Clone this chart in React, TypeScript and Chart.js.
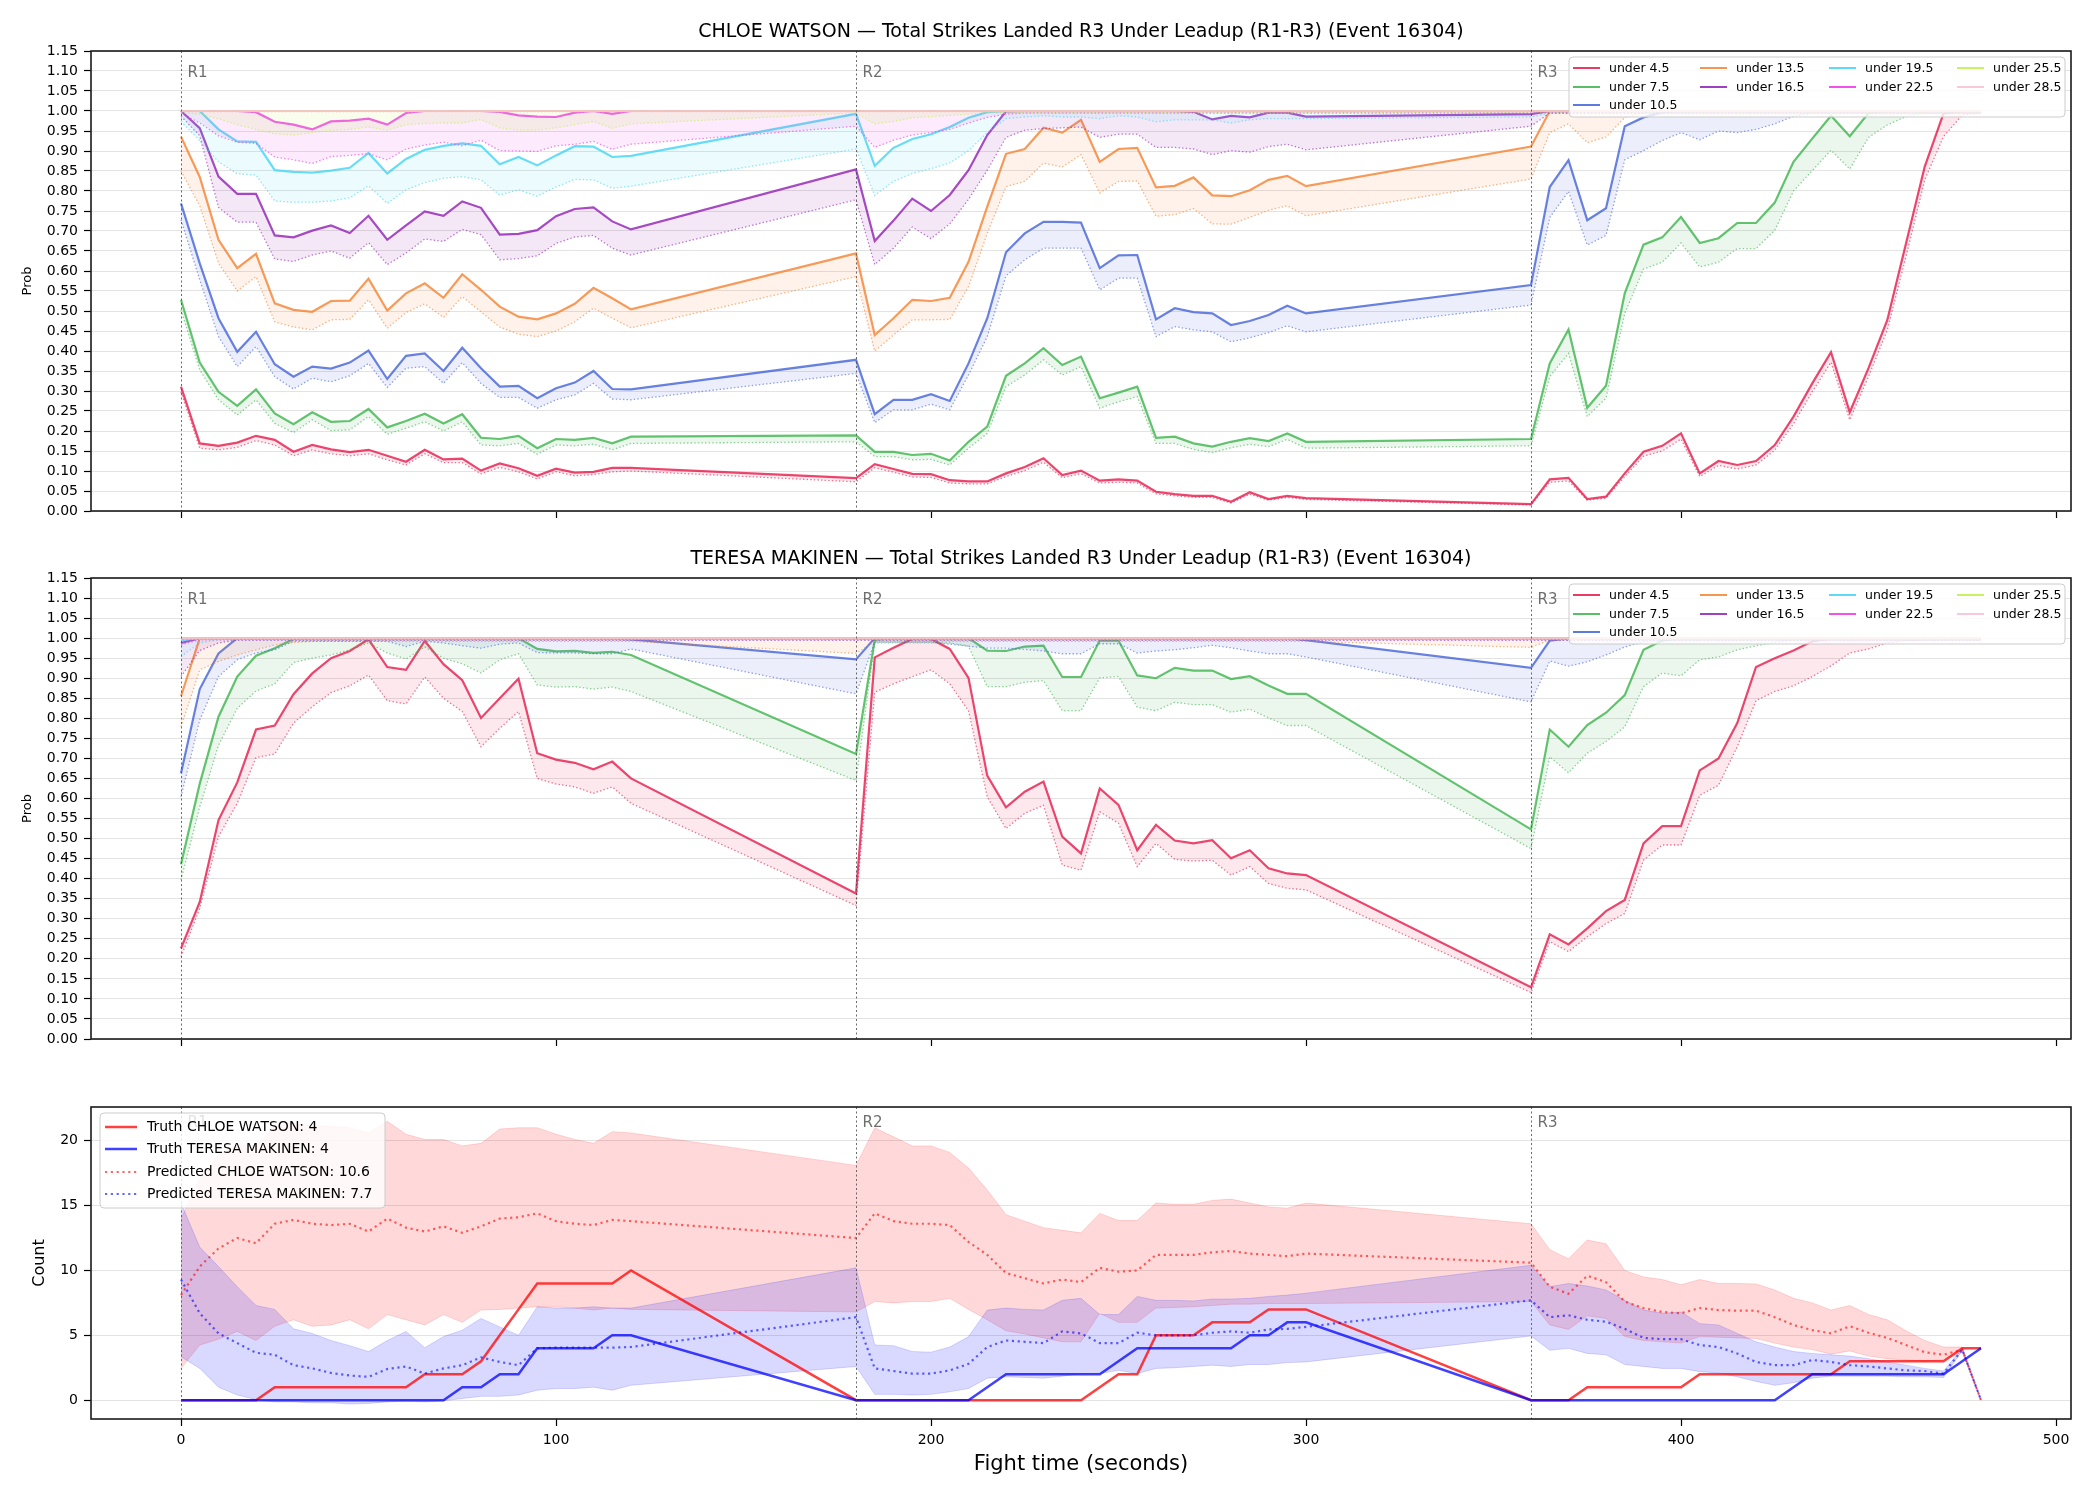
import React, { useEffect, useRef } from "react";
import { Chart, registerables } from "chart.js";

Chart.register(...registerables);

const FONT = "'DejaVu Sans', Verdana, sans-serif";

// ---------- time grid (seconds) ----------
const TIMES = [
  0, 5, 10, 15, 20, 25, 30, 35, 40, 45, 50, 55, 60, 65, 70, 75, 80, 85, 90, 95, 100, 105, 110, 115, 120,
  180, 185, 190, 195, 200, 205, 210, 215, 220, 225, 230, 235, 240, 245, 250, 255, 260, 265, 270, 275, 280, 285, 290, 295, 300,
  360, 365, 370, 375, 380, 385, 390, 395, 400, 405, 410, 415, 420, 425, 430, 435, 440, 445, 450, 455, 460, 465, 470, 475, 480,
];
const ROUND_STARTS = [0, 180, 360];
const ROUND_NAMES = ["R1", "R2", "R3"];
const X_MIN = -24;
const X_MAX = 504;
const X_TICKS = [0, 100, 200, 300, 400, 500];
const PROB_TICKS = [
  0, 0.05, 0.1, 0.15, 0.2, 0.25, 0.3, 0.35, 0.4, 0.45, 0.5, 0.55, 0.6, 0.65, 0.7, 0.75, 0.8, 0.85, 0.9, 0.95, 1.0, 1.05, 1.1, 1.15,
];
const COUNT_TICKS = [0, 5, 10, 15, 20];

const FIGHTERS = ["CHLOE WATSON", "TERESA MAKINEN"];
const EVENT_ID = 16304;
const LINE_NAMES = [
  "under 4.5", "under 7.5", "under 10.5", "under 13.5", "under 16.5",
  "under 19.5", "under 22.5", "under 25.5", "under 28.5",
];
const LINE_COLORS = [
  "#e6194b", "#3cb44b", "#4363d8", "#f58231", "#911eb4",
  "#42d4f4", "#f032e6", "#bfef45", "#fabed4",
];

// ---------- CHLOE WATSON: probability of staying under each line ----------
const CHLOE_UNDER_4_5 = [
  0.311, 0.169, 0.163, 0.171, 0.188, 0.178, 0.148, 0.165, 0.154, 0.147, 0.153, 0.138, 0.123, 0.153, 0.129, 0.131, 0.101, 0.119, 0.107, 0.088, 0.106, 0.096, 0.098, 0.108, 0.108,
  0.082, 0.117, 0.105, 0.093, 0.092, 0.077, 0.074, 0.074, 0.094, 0.110, 0.132, 0.090, 0.101, 0.076, 0.079, 0.076, 0.048, 0.042, 0.038, 0.038, 0.023, 0.047, 0.030, 0.038, 0.032,
  0.017, 0.079, 0.083, 0.030, 0.036, 0.094, 0.148, 0.163, 0.194, 0.094, 0.125, 0.115, 0.125, 0.165, 0.236, 0.319, 0.397, 0.247, 0.357, 0.477, 0.669, 0.861, 0.994, 1, 1,
];
const CHLOE_UNDER_4_5_LOW = [
  0.298, 0.157, 0.153, 0.159, 0.176, 0.165, 0.138, 0.153, 0.143, 0.138, 0.143, 0.128, 0.115, 0.143, 0.121, 0.121, 0.093, 0.109, 0.098, 0.080, 0.098, 0.088, 0.091, 0.098, 0.100,
  0.073, 0.108, 0.097, 0.085, 0.084, 0.070, 0.068, 0.068, 0.086, 0.101, 0.122, 0.083, 0.093, 0.070, 0.072, 0.070, 0.043, 0.038, 0.034, 0.034, 0.020, 0.042, 0.027, 0.034, 0.029,
  0.015, 0.072, 0.075, 0.027, 0.032, 0.086, 0.137, 0.150, 0.180, 0.086, 0.114, 0.105, 0.115, 0.152, 0.218, 0.298, 0.372, 0.228, 0.336, 0.452, 0.636, 0.828, 0.936, 0.990, 0.995,
];
const CHLOE_UNDER_7_5 = [
  0.528, 0.371, 0.298, 0.263, 0.304, 0.244, 0.217, 0.247, 0.223, 0.225, 0.255, 0.209, 0.225, 0.243, 0.219, 0.242, 0.183, 0.180, 0.188, 0.157, 0.180, 0.178, 0.183, 0.169, 0.186,
  0.189, 0.148, 0.148, 0.140, 0.143, 0.126, 0.173, 0.211, 0.338, 0.369, 0.407, 0.365, 0.386, 0.282, 0.296, 0.311, 0.183, 0.186, 0.169, 0.161, 0.173, 0.182, 0.175, 0.194, 0.173,
  0.180, 0.369, 0.454, 0.258, 0.313, 0.544, 0.666, 0.684, 0.735, 0.670, 0.682, 0.720, 0.720, 0.771, 0.873, 0.931, 0.988, 0.937, 0.995, 1, 1, 1, 1, 1, 1,
];
const CHLOE_UNDER_7_5_LOW = [
  0.503, 0.353, 0.278, 0.240, 0.278, 0.219, 0.196, 0.228, 0.201, 0.203, 0.236, 0.192, 0.207, 0.223, 0.200, 0.223, 0.165, 0.163, 0.169, 0.142, 0.165, 0.163, 0.167, 0.153, 0.169,
  0.173, 0.136, 0.136, 0.128, 0.129, 0.115, 0.157, 0.194, 0.311, 0.340, 0.378, 0.340, 0.361, 0.257, 0.273, 0.286, 0.169, 0.169, 0.154, 0.146, 0.158, 0.167, 0.161, 0.179, 0.157,
  0.163, 0.336, 0.394, 0.236, 0.282, 0.494, 0.605, 0.622, 0.670, 0.610, 0.622, 0.656, 0.656, 0.702, 0.800, 0.851, 0.902, 0.855, 0.934, 0.965, 0.986, 0.995, 0.995, 0.995, 0.995,
];
const CHLOE_UNDER_10_5 = [
  0.769, 0.619, 0.482, 0.398, 0.448, 0.367, 0.336, 0.361, 0.356, 0.371, 0.401, 0.330, 0.388, 0.394, 0.350, 0.408, 0.357, 0.311, 0.313, 0.282, 0.307, 0.321, 0.350, 0.305, 0.304,
  0.378, 0.242, 0.278, 0.278, 0.292, 0.275, 0.369, 0.482, 0.647, 0.694, 0.723, 0.723, 0.721, 0.607, 0.639, 0.640, 0.479, 0.507, 0.497, 0.494, 0.465, 0.475, 0.490, 0.513, 0.494,
  0.565, 0.810, 0.877, 0.727, 0.757, 0.962, 0.984, 0.997, 1, 1, 1, 1, 1, 1, 1, 1, 1, 1, 1, 1, 1, 1, 1, 1, 1,
];
const CHLOE_UNDER_10_5_LOW = [
  0.728, 0.578, 0.436, 0.361, 0.411, 0.336, 0.305, 0.332, 0.323, 0.338, 0.369, 0.309, 0.357, 0.361, 0.319, 0.371, 0.319, 0.284, 0.284, 0.257, 0.278, 0.290, 0.319, 0.280, 0.278,
  0.344, 0.221, 0.253, 0.253, 0.267, 0.253, 0.340, 0.436, 0.588, 0.628, 0.657, 0.657, 0.657, 0.553, 0.582, 0.582, 0.436, 0.461, 0.453, 0.448, 0.423, 0.433, 0.446, 0.463, 0.448,
  0.515, 0.734, 0.799, 0.665, 0.689, 0.878, 0.901, 0.926, 0.946, 0.928, 0.950, 0.946, 0.954, 0.968, 0.987, 0.995, 0.995, 0.995, 0.995, 0.995, 0.995, 0.995, 0.995, 0.995, 0.995,
];
const CHLOE_UNDER_13_5 = [
  0.936, 0.835, 0.678, 0.607, 0.643, 0.519, 0.503, 0.498, 0.525, 0.526, 0.581, 0.501, 0.544, 0.569, 0.533, 0.592, 0.553, 0.511, 0.486, 0.479, 0.494, 0.518, 0.558, 0.532, 0.504,
  0.644, 0.440, 0.482, 0.528, 0.525, 0.533, 0.623, 0.761, 0.893, 0.905, 0.958, 0.946, 0.978, 0.873, 0.905, 0.908, 0.809, 0.813, 0.834, 0.789, 0.787, 0.802, 0.828, 0.838, 0.812,
  0.911, 1, 1, 1, 1, 1, 1, 1, 1, 1, 1, 1, 1, 1, 1, 1, 1, 1, 1, 1, 1, 1, 1, 1, 1,
];
const CHLOE_UNDER_13_5_LOW = [
  0.850, 0.763, 0.620, 0.550, 0.586, 0.473, 0.460, 0.453, 0.478, 0.479, 0.528, 0.457, 0.496, 0.518, 0.484, 0.536, 0.498, 0.460, 0.442, 0.436, 0.450, 0.473, 0.507, 0.482, 0.458,
  0.586, 0.400, 0.440, 0.478, 0.478, 0.479, 0.561, 0.694, 0.811, 0.824, 0.870, 0.860, 0.891, 0.795, 0.824, 0.825, 0.737, 0.741, 0.756, 0.718, 0.717, 0.734, 0.752, 0.763, 0.738,
  0.830, 0.946, 0.968, 0.921, 0.935, 0.984, 0.995, 0.995, 0.995, 0.995, 0.995, 0.995, 0.995, 0.995, 0.995, 0.995, 0.995, 0.995, 0.995, 0.995, 0.995, 0.995, 0.995, 0.995, 0.995,
];
const CHLOE_UNDER_16_5 = [
  1, 0.957, 0.836, 0.793, 0.793, 0.689, 0.684, 0.701, 0.714, 0.695, 0.738, 0.678, 0.714, 0.749, 0.738, 0.774, 0.758, 0.691, 0.693, 0.702, 0.737, 0.755, 0.759, 0.724, 0.704,
  0.854, 0.675, 0.726, 0.781, 0.750, 0.790, 0.852, 0.940, 0.999, 1, 1, 1, 1, 1, 1, 1, 1, 1, 0.998, 0.979, 0.988, 0.984, 0.996, 0.996, 0.986,
  0.992, 1, 1, 1, 1, 1, 1, 1, 1, 1, 1, 1, 1, 1, 1, 1, 1, 1, 1, 1, 1, 1, 1, 1, 1,
];
const CHLOE_UNDER_16_5_LOW = [
  0.987, 0.938, 0.759, 0.722, 0.722, 0.630, 0.624, 0.640, 0.650, 0.632, 0.671, 0.616, 0.645, 0.680, 0.674, 0.704, 0.691, 0.628, 0.631, 0.638, 0.669, 0.685, 0.689, 0.657, 0.640,
  0.778, 0.616, 0.657, 0.710, 0.681, 0.718, 0.779, 0.852, 0.934, 0.952, 0.956, 0.958, 0.960, 0.934, 0.942, 0.942, 0.909, 0.909, 0.905, 0.891, 0.901, 0.897, 0.911, 0.917, 0.903,
  0.962, 0.995, 0.995, 0.995, 0.995, 0.995, 0.995, 0.995, 0.995, 0.995, 0.995, 0.995, 0.995, 0.995, 0.995, 0.995, 0.995, 0.995, 0.995, 0.995, 0.995, 0.995, 0.995, 0.995, 0.995,
];
const CHLOE_UNDER_19_5 = [
  1, 1, 0.954, 0.924, 0.923, 0.852, 0.848, 0.846, 0.851, 0.858, 0.895, 0.844, 0.880, 0.903, 0.913, 0.919, 0.913, 0.867, 0.885, 0.864, 0.889, 0.912, 0.911, 0.885, 0.888,
  0.993, 0.863, 0.908, 0.930, 0.942, 0.960, 0.983, 0.997, 1, 1, 1, 1, 1, 1, 1, 1, 1, 1, 1, 1, 1, 1, 1, 1, 1,
  1, 1, 1, 1, 1, 1, 1, 1, 1, 1, 1, 1, 1, 1, 1, 1, 1, 1, 1, 1, 1, 1, 1, 1, 1,
];
const CHLOE_UNDER_19_5_LOW = [
  0.974, 0.926, 0.873, 0.843, 0.840, 0.775, 0.772, 0.772, 0.775, 0.783, 0.813, 0.769, 0.803, 0.821, 0.832, 0.836, 0.828, 0.790, 0.803, 0.787, 0.810, 0.829, 0.828, 0.807, 0.812,
  0.905, 0.789, 0.824, 0.844, 0.856, 0.870, 0.901, 0.946, 0.981, 0.985, 0.988, 0.985, 0.985, 0.981, 0.988, 0.985, 0.973, 0.978, 0.978, 0.978, 0.970, 0.978, 0.981, 0.981, 0.981,
  0.985, 0.995, 0.995, 0.995, 0.995, 0.995, 0.995, 0.995, 0.995, 0.995, 0.995, 0.995, 0.995, 0.995, 0.995, 0.995, 0.995, 0.995, 0.995, 0.995, 0.995, 0.995, 0.995, 0.995, 0.995,
];
const CHLOE_UNDER_22_5 = [
  1, 1, 1, 1, 0.997, 0.973, 0.966, 0.954, 0.974, 0.976, 0.981, 0.966, 0.995, 1, 1, 1, 1, 0.998, 0.989, 0.986, 0.985, 0.996, 1, 0.993, 1,
  1, 1, 1, 1, 1, 1, 1, 1, 1, 1, 1, 1, 1, 1, 1, 1, 1, 1, 1, 1, 1, 1, 1, 1, 1,
  1, 1, 1, 1, 1, 1, 1, 1, 1, 1, 1, 1, 1, 1, 1, 1, 1, 1, 1, 1, 1, 1, 1, 1, 1,
];
const CHLOE_UNDER_22_5_LOW = [
  0.995, 0.970, 0.938, 0.922, 0.919, 0.885, 0.878, 0.869, 0.886, 0.889, 0.893, 0.878, 0.905, 0.915, 0.922, 0.913, 0.927, 0.901, 0.900, 0.899, 0.913, 0.917, 0.924, 0.904, 0.917,
  0.962, 0.909, 0.927, 0.940, 0.946, 0.954, 0.970, 0.984, 0.992, 0.995, 0.995, 0.995, 0.995, 0.995, 0.995, 0.995, 0.995, 0.995, 0.995, 0.995, 0.995, 0.995, 0.995, 0.995, 0.995,
  0.995, 0.995, 0.995, 0.995, 0.995, 0.995, 0.995, 0.995, 0.995, 0.995, 0.995, 0.995, 0.995, 0.995, 0.995, 0.995, 0.995, 0.995, 0.995, 0.995, 0.995, 0.995, 0.995, 0.995, 0.995,
];
const CHLOE_UNDER_25_5 = [
  1, 1, 1, 1, 1, 1, 1, 1, 1, 1, 1, 1, 1, 1, 1, 1, 1, 1, 1, 1, 1, 1, 1, 1, 1,
  1, 1, 1, 1, 1, 1, 1, 1, 1, 1, 1, 1, 1, 1, 1, 1, 1, 1, 1, 1, 1, 1, 1, 1, 1,
  1, 1, 1, 1, 1, 1, 1, 1, 1, 1, 1, 1, 1, 1, 1, 1, 1, 1, 1, 1, 1, 1, 1, 1, 1,
];
const CHLOE_UNDER_25_5_LOW = [
  0.995, 0.992, 0.980, 0.966, 0.954, 0.943, 0.940, 0.946, 0.952, 0.954, 0.960, 0.952, 0.966, 0.969, 0.970, 0.970, 0.979, 0.958, 0.952, 0.952, 0.958, 0.966, 0.974, 0.957, 0.968,
  0.995, 0.968, 0.974, 0.983, 0.986, 0.989, 0.992, 0.995, 0.995, 0.995, 0.995, 0.995, 0.995, 0.995, 0.995, 0.995, 0.995, 0.995, 0.995, 0.995, 0.995, 0.995, 0.995, 0.995, 0.995,
  0.997, 0.997, 0.997, 0.997, 0.997, 0.997, 0.997, 0.997, 0.997, 0.997, 0.997, 0.997, 0.997, 0.997, 0.997, 0.997, 0.997, 0.997, 0.997, 0.997, 0.997, 0.997, 0.997, 0.997, 0.997,
];
const CHLOE_UNDER_28_5 = [
  1, 1, 1, 1, 1, 1, 1, 1, 1, 1, 1, 1, 1, 1, 1, 1, 1, 1, 1, 1, 1, 1, 1, 1, 1,
  1, 1, 1, 1, 1, 1, 1, 1, 1, 1, 1, 1, 1, 1, 1, 1, 1, 1, 1, 1, 1, 1, 1, 1, 1,
  1, 1, 1, 1, 1, 1, 1, 1, 1, 1, 1, 1, 1, 1, 1, 1, 1, 1, 1, 1, 1, 1, 1, 1, 1,
];
const CHLOE_UNDER_28_5_LOW = [
  0.998, 0.998, 0.998, 0.998, 0.998, 0.998, 0.998, 0.998, 0.998, 0.998, 0.998, 0.998, 0.998, 0.998, 0.998, 0.998, 0.998, 0.998, 0.998, 0.998, 0.998, 0.998, 0.998, 0.998, 0.998,
  0.998, 0.998, 0.998, 0.998, 0.998, 0.998, 0.998, 0.998, 0.998, 0.998, 0.998, 0.998, 0.998, 0.998, 0.998, 0.998, 0.998, 0.998, 0.998, 0.998, 0.998, 0.998, 0.998, 0.998, 0.998,
  0.998, 0.998, 0.998, 0.998, 0.998, 0.998, 0.998, 0.998, 0.998, 0.998, 0.998, 0.998, 0.998, 0.998, 0.998, 0.998, 0.998, 0.998, 0.998, 0.998, 0.998, 0.998, 0.998, 0.998, 0.998,
];

// ---------- TERESA MAKINEN: probability of staying under each line ----------
const TERESA_UNDER_4_5 = [
  0.226, 0.342, 0.546, 0.640, 0.772, 0.782, 0.860, 0.912, 0.950, 0.968, 0.997, 0.928, 0.921, 0.993, 0.935, 0.895, 0.801, 0.850, 0.899, 0.713, 0.697, 0.689, 0.673, 0.692, 0.650,
  0.363, 0.952, 0.976, 0.998, 0.998, 0.973, 0.901, 0.657, 0.578, 0.617, 0.642, 0.505, 0.463, 0.625, 0.584, 0.471, 0.534, 0.495, 0.488, 0.496, 0.451, 0.471, 0.426, 0.413, 0.409,
  0.129, 0.261, 0.236, 0.276, 0.319, 0.347, 0.488, 0.531, 0.531, 0.670, 0.700, 0.788, 0.928, 0.950, 0.969, 0.992, 1, 1, 1, 1, 1, 1, 1, 1, 1,
];
const TERESA_UNDER_4_5_LOW = [
  0.205, 0.326, 0.505, 0.588, 0.702, 0.711, 0.788, 0.829, 0.864, 0.881, 0.908, 0.844, 0.836, 0.903, 0.850, 0.817, 0.729, 0.775, 0.817, 0.650, 0.636, 0.629, 0.613, 0.629, 0.588,
  0.333, 0.865, 0.886, 0.904, 0.921, 0.886, 0.819, 0.604, 0.525, 0.563, 0.583, 0.434, 0.421, 0.567, 0.538, 0.430, 0.488, 0.448, 0.444, 0.446, 0.409, 0.430, 0.388, 0.376, 0.372,
  0.116, 0.243, 0.218, 0.255, 0.288, 0.313, 0.446, 0.484, 0.484, 0.608, 0.633, 0.729, 0.844, 0.867, 0.881, 0.904, 0.931, 0.963, 0.973, 0.988, 0.994, 0.996, 0.997, 0.997, 0.997,
];
const TERESA_UNDER_7_5 = [
  0.436, 0.637, 0.804, 0.904, 0.956, 0.975, 0.998, 1, 1, 1, 1, 1, 1, 1, 1, 1, 1, 1, 1, 0.973, 0.967, 0.968, 0.963, 0.966, 0.958,
  0.711, 0.996, 1, 1, 1, 1, 1, 0.969, 0.968, 0.979, 0.981, 0.903, 0.903, 0.994, 0.994, 0.907, 0.900, 0.926, 0.919, 0.919, 0.898, 0.905, 0.882, 0.861, 0.861,
  0.523, 0.772, 0.729, 0.783, 0.814, 0.858, 0.971, 0.994, 1, 1, 1, 1, 1, 1, 1, 1, 1, 1, 1, 1, 1, 1, 1, 1, 1,
];
const TERESA_UNDER_7_5_LOW = [
  0.397, 0.579, 0.733, 0.825, 0.868, 0.886, 0.939, 0.950, 0.958, 0.971, 0.988, 0.963, 0.948, 0.978, 0.950, 0.936, 0.913, 0.946, 0.961, 0.883, 0.878, 0.879, 0.873, 0.878, 0.867,
  0.645, 0.988, 0.988, 0.988, 0.988, 0.988, 0.980, 0.879, 0.879, 0.890, 0.894, 0.819, 0.819, 0.901, 0.904, 0.828, 0.819, 0.840, 0.834, 0.834, 0.815, 0.823, 0.801, 0.782, 0.782,
  0.475, 0.704, 0.664, 0.713, 0.742, 0.779, 0.879, 0.913, 0.906, 0.946, 0.953, 0.971, 0.981, 0.989, 0.995, 0.995, 0.995, 0.995, 0.995, 0.995, 0.995, 0.995, 0.995, 0.995, 0.995,
];
const TERESA_UNDER_10_5 = [
  0.663, 0.873, 0.962, 1, 1, 1, 1, 1, 1, 1, 1, 1, 1, 1, 1, 1, 1, 1, 1, 1, 1, 1, 1, 0.999, 0.997,
  0.947, 1, 1, 1, 1, 1, 1, 1, 1, 1, 1, 1, 1, 1, 1, 1, 1, 1, 1, 1, 1, 1, 1, 1, 0.995,
  0.926, 0.994, 1, 1, 1, 1, 1, 1, 1, 1, 1, 1, 1, 1, 1, 1, 1, 1, 1, 1, 1, 1, 1, 1, 1,
];
const TERESA_UNDER_10_5_LOW = [
  0.604, 0.796, 0.904, 0.946, 0.963, 0.971, 0.992, 0.992, 0.992, 0.992, 0.992, 0.992, 0.979, 0.992, 0.988, 0.981, 0.975, 0.985, 0.988, 0.964, 0.963, 0.963, 0.961, 0.961, 0.973,
  0.861, 0.990, 0.990, 0.990, 0.990, 0.985, 0.980, 0.975, 0.975, 0.972, 0.968, 0.961, 0.961, 0.986, 0.986, 0.963, 0.968, 0.971, 0.976, 0.982, 0.976, 0.968, 0.961, 0.961, 0.953,
  0.841, 0.943, 0.930, 0.941, 0.958, 0.978, 0.991, 0.995, 0.995, 0.995, 0.995, 0.995, 0.995, 0.995, 0.995, 0.995, 0.995, 0.995, 0.995, 0.995, 0.995, 0.995, 0.995, 0.995, 0.995,
];
const TERESA_UNDER_13_5 = [
  0.855, 1, 1, 1, 1, 1, 1, 1, 1, 1, 1, 1, 1, 1, 1, 1, 1, 1, 1, 1, 1, 1, 1, 1, 1,
  1, 1, 1, 1, 1, 1, 1, 1, 1, 1, 1, 1, 1, 1, 1, 1, 1, 1, 1, 1, 1, 1, 1, 1, 1,
  1, 1, 1, 1, 1, 1, 1, 1, 1, 1, 1, 1, 1, 1, 1, 1, 1, 1, 1, 1, 1, 1, 1, 1, 1,
];
const TERESA_UNDER_13_5_LOW = [
  0.779, 0.921, 0.942, 0.958, 0.971, 0.983, 0.989, 0.992, 0.992, 0.992, 0.992, 0.992, 0.992, 0.992, 0.992, 0.992, 0.992, 0.992, 0.992, 0.992, 0.992, 0.992, 0.992, 0.992, 0.992,
  0.962, 0.992, 0.992, 0.992, 0.992, 0.992, 0.992, 0.992, 0.992, 0.992, 0.992, 0.992, 0.992, 0.992, 0.992, 0.992, 0.992, 0.992, 0.992, 0.992, 0.992, 0.992, 0.992, 0.992, 0.992,
  0.977, 0.995, 0.995, 0.995, 0.995, 0.995, 0.995, 0.995, 0.995, 0.995, 0.995, 0.995, 0.995, 0.995, 0.995, 0.995, 0.995, 0.995, 0.995, 0.995, 0.995, 0.995, 0.995, 0.995, 0.995,
];
const TERESA_UNDER_16_5 = [
  0.988, 1, 1, 1, 1, 1, 1, 1, 1, 1, 1, 1, 1, 1, 1, 1, 1, 1, 1, 1, 1, 1, 1, 1, 1,
  1, 1, 1, 1, 1, 1, 1, 1, 1, 1, 1, 1, 1, 1, 1, 1, 1, 1, 1, 1, 1, 1, 1, 1, 1,
  1, 1, 1, 1, 1, 1, 1, 1, 1, 1, 1, 1, 1, 1, 1, 1, 1, 1, 1, 1, 1, 1, 1, 1, 1,
];
const TERESA_UNDER_16_5_LOW = [
  0.904, 0.969, 0.988, 0.995, 0.995, 0.995, 0.995, 0.995, 0.995, 0.995, 0.995, 0.995, 0.995, 0.995, 0.995, 0.995, 0.995, 0.995, 0.995, 0.995, 0.995, 0.995, 0.995, 0.995, 0.995,
  0.995, 0.995, 0.995, 0.995, 0.995, 0.995, 0.995, 0.995, 0.995, 0.995, 0.995, 0.995, 0.995, 0.995, 0.995, 0.995, 0.995, 0.995, 0.995, 0.995, 0.995, 0.995, 0.995, 0.995, 0.995,
  0.995, 0.995, 0.995, 0.995, 0.995, 0.995, 0.995, 0.995, 0.995, 0.995, 0.995, 0.995, 0.995, 0.995, 0.995, 0.995, 0.995, 0.995, 0.995, 0.995, 0.995, 0.995, 0.995, 0.995, 0.995,
];
const TERESA_UNDER_19_5 = [
  0.995, 1, 1, 1, 1, 1, 1, 1, 1, 1, 1, 1, 1, 1, 1, 1, 1, 1, 1, 1, 1, 1, 1, 1, 1,
  1, 1, 1, 1, 1, 1, 1, 1, 1, 1, 1, 1, 1, 1, 1, 1, 1, 1, 1, 1, 1, 1, 1, 1, 1,
  1, 1, 1, 1, 1, 1, 1, 1, 1, 1, 1, 1, 1, 1, 1, 1, 1, 1, 1, 1, 1, 1, 1, 1, 1,
];
const TERESA_UNDER_19_5_LOW = [
  0.954, 0.988, 0.996, 0.996, 0.996, 0.996, 0.996, 0.996, 0.996, 0.996, 0.996, 0.996, 0.996, 0.996, 0.996, 0.996, 0.996, 0.996, 0.996, 0.996, 0.996, 0.996, 0.996, 0.996, 0.996,
  0.996, 0.996, 0.996, 0.996, 0.996, 0.996, 0.996, 0.996, 0.996, 0.996, 0.996, 0.996, 0.996, 0.996, 0.996, 0.996, 0.996, 0.996, 0.996, 0.996, 0.996, 0.996, 0.996, 0.996, 0.996,
  0.996, 0.996, 0.996, 0.996, 0.996, 0.996, 0.996, 0.996, 0.996, 0.996, 0.996, 0.996, 0.996, 0.996, 0.996, 0.996, 0.996, 0.996, 0.996, 0.996, 0.996, 0.996, 0.996, 0.996, 0.996,
];
const TERESA_UNDER_22_5 = [
  1, 1, 1, 1, 1, 1, 1, 1, 1, 1, 1, 1, 1, 1, 1, 1, 1, 1, 1, 1, 1, 1, 1, 1, 1,
  1, 1, 1, 1, 1, 1, 1, 1, 1, 1, 1, 1, 1, 1, 1, 1, 1, 1, 1, 1, 1, 1, 1, 1, 1,
  1, 1, 1, 1, 1, 1, 1, 1, 1, 1, 1, 1, 1, 1, 1, 1, 1, 1, 1, 1, 1, 1, 1, 1, 1,
];
const TERESA_UNDER_22_5_LOW = [
  0.983, 0.996, 0.996, 0.996, 0.996, 0.996, 0.996, 0.996, 0.996, 0.996, 0.996, 0.996, 0.996, 0.996, 0.996, 0.996, 0.996, 0.996, 0.996, 0.996, 0.996, 0.996, 0.996, 0.996, 0.996,
  0.996, 0.996, 0.996, 0.996, 0.996, 0.996, 0.996, 0.996, 0.996, 0.996, 0.996, 0.996, 0.996, 0.996, 0.996, 0.996, 0.996, 0.996, 0.996, 0.996, 0.996, 0.996, 0.996, 0.996, 0.996,
  0.996, 0.996, 0.996, 0.996, 0.996, 0.996, 0.996, 0.996, 0.996, 0.996, 0.996, 0.996, 0.996, 0.996, 0.996, 0.996, 0.996, 0.996, 0.996, 0.996, 0.996, 0.996, 0.996, 0.996, 0.996,
];
const TERESA_UNDER_25_5 = [
  1, 1, 1, 1, 1, 1, 1, 1, 1, 1, 1, 1, 1, 1, 1, 1, 1, 1, 1, 1, 1, 1, 1, 1, 1,
  1, 1, 1, 1, 1, 1, 1, 1, 1, 1, 1, 1, 1, 1, 1, 1, 1, 1, 1, 1, 1, 1, 1, 1, 1,
  1, 1, 1, 1, 1, 1, 1, 1, 1, 1, 1, 1, 1, 1, 1, 1, 1, 1, 1, 1, 1, 1, 1, 1, 1,
];
const TERESA_UNDER_25_5_LOW = [
  0.997, 0.997, 0.997, 0.997, 0.997, 0.997, 0.997, 0.997, 0.997, 0.997, 0.997, 0.997, 0.997, 0.997, 0.997, 0.997, 0.997, 0.997, 0.997, 0.997, 0.997, 0.997, 0.997, 0.997, 0.997,
  0.997, 0.997, 0.997, 0.997, 0.997, 0.997, 0.997, 0.997, 0.997, 0.997, 0.997, 0.997, 0.997, 0.997, 0.997, 0.997, 0.997, 0.997, 0.997, 0.997, 0.997, 0.997, 0.997, 0.997, 0.997,
  0.997, 0.997, 0.997, 0.997, 0.997, 0.997, 0.997, 0.997, 0.997, 0.997, 0.997, 0.997, 0.997, 0.997, 0.997, 0.997, 0.997, 0.997, 0.997, 0.997, 0.997, 0.997, 0.997, 0.997, 0.997,
];
const TERESA_UNDER_28_5 = [
  1, 1, 1, 1, 1, 1, 1, 1, 1, 1, 1, 1, 1, 1, 1, 1, 1, 1, 1, 1, 1, 1, 1, 1, 1,
  1, 1, 1, 1, 1, 1, 1, 1, 1, 1, 1, 1, 1, 1, 1, 1, 1, 1, 1, 1, 1, 1, 1, 1, 1,
  1, 1, 1, 1, 1, 1, 1, 1, 1, 1, 1, 1, 1, 1, 1, 1, 1, 1, 1, 1, 1, 1, 1, 1, 1,
];
const TERESA_UNDER_28_5_LOW = [
  0.998, 0.998, 0.998, 0.998, 0.998, 0.998, 0.998, 0.998, 0.998, 0.998, 0.998, 0.998, 0.998, 0.998, 0.998, 0.998, 0.998, 0.998, 0.998, 0.998, 0.998, 0.998, 0.998, 0.998, 0.998,
  0.998, 0.998, 0.998, 0.998, 0.998, 0.998, 0.998, 0.998, 0.998, 0.998, 0.998, 0.998, 0.998, 0.998, 0.998, 0.998, 0.998, 0.998, 0.998, 0.998, 0.998, 0.998, 0.998, 0.998, 0.998,
  0.998, 0.998, 0.998, 0.998, 0.998, 0.998, 0.998, 0.998, 0.998, 0.998, 0.998, 0.998, 0.998, 0.998, 0.998, 0.998, 0.998, 0.998, 0.998, 0.998, 0.998, 0.998, 0.998, 0.998, 0.998,
];

// ---------- strike counts ----------
const TRUTH_CHLOE = [
  0, 0, 0, 0, 0, 1, 1, 1, 1, 1, 1, 1, 1, 2, 2, 2, 3, 5, 7, 9, 9, 9, 9, 9, 10,
  0, 0, 0, 0, 0, 0, 0, 0, 0, 0, 0, 0, 0, 1, 2, 2, 5, 5, 5, 6, 6, 6, 7, 7, 7,
  0, 0, 0, 1, 1, 1, 1, 1, 1, 2, 2, 2, 2, 2, 2, 2, 2, 3, 3, 3, 3, 3, 3, 4, 4,
];
const TRUTH_TERESA = [
  0, 0, 0, 0, 0, 0, 0, 0, 0, 0, 0, 0, 0, 0, 0, 1, 1, 2, 2, 4, 4, 4, 4, 5, 5,
  0, 0, 0, 0, 0, 0, 0, 1, 2, 2, 2, 2, 2, 2, 3, 4, 4, 4, 4, 4, 4, 5, 5, 6, 6,
  0, 0, 0, 0, 0, 0, 0, 0, 0, 0, 0, 0, 0, 0, 1, 2, 2, 2, 2, 2, 2, 2, 2, 3, 4,
];
const PRED_CHLOE = [
  8.1, 10.3, 11.7, 12.5, 12.1, 13.6, 13.9, 13.6, 13.5, 13.6, 13.0, 14.0, 13.3, 13.0, 13.4, 12.9, 13.4, 14.0, 14.1, 14.4, 13.8, 13.6, 13.5, 13.9, 13.8,
  12.5, 14.4, 13.8, 13.6, 13.6, 13.5, 12.2, 11.2, 9.8, 9.4, 9.0, 9.3, 9.1, 10.2, 9.9, 10.0, 11.2, 11.2, 11.2, 11.4, 11.5, 11.3, 11.2, 11.1, 11.3,
  10.6, 8.75, 8.2, 9.6, 9.1, 7.6, 7.1, 6.8, 6.7, 7.1, 6.95, 6.9, 6.9, 6.4, 5.8, 5.4, 5.15, 5.7, 5.2, 4.8, 4.25, 3.7, 3.5, 3.9, 0,
];
const PRED_CHLOE_HIGH = [
  14.0, 17.0, 18.9, 19.7, 19.6, 21.1, 21.4, 21.1, 21.1, 21.0, 20.6, 21.5, 20.5, 20.1, 20.1, 19.6, 19.8, 20.9, 21.0, 21.0, 20.5, 20.1, 19.8, 20.7, 20.6,
  18.1, 21.0, 20.3, 19.6, 19.6, 19.1, 17.9, 16.2, 14.3, 13.8, 13.3, 13.1, 12.9, 14.4, 13.85, 13.85, 15.2, 15.1, 15.1, 15.4, 15.5, 15.2, 14.9, 14.8, 15.2,
  13.6, 11.6, 10.9, 12.35, 12.05, 10.0, 9.5, 9.3, 8.9, 9.3, 9.0, 9.0, 8.96, 8.5, 7.85, 7.5, 6.95, 7.3, 6.6, 6.2, 5.35, 4.6, 4.1, 4.1, 0,
];
const PRED_CHLOE_LOW = [
  2.45, 4.25, 4.7, 5.3, 4.6, 5.7, 6.2, 5.7, 5.8, 6.2, 5.5, 6.6, 6.2, 5.8, 6.6, 6.0, 6.95, 7.0, 7.1, 7.2, 7.2, 7.1, 6.95, 7.1, 7.0,
  6.8, 7.6, 7.5, 7.6, 7.6, 7.85, 7.0, 6.2, 5.35, 5.1, 4.8, 4.5, 4.5, 6.7, 6.0, 6.0, 7.1, 7.15, 7.2, 7.3, 7.4, 7.4, 7.45, 7.45, 7.45,
  7.6, 5.8, 5.45, 6.5, 6.3, 4.9, 4.6, 4.5, 4.4, 4.9, 4.85, 4.8, 4.75, 4.4, 4.1, 3.9, 3.55, 3.8, 3.4, 3.2, 3.1, 3.0, 3.1, 3.7, 0,
];
const PRED_TERESA = [
  9.3, 6.7, 5.15, 4.4, 3.65, 3.5, 2.7, 2.45, 2.1, 1.9, 1.8, 2.4, 2.6, 2.05, 2.45, 2.7, 3.3, 2.95, 2.7, 4.0, 4.05, 4.05, 4.05, 4.05, 4.1,
  6.4, 2.45, 2.25, 2.05, 2.05, 2.3, 2.8, 4.1, 4.6, 4.5, 4.4, 5.3, 5.15, 4.4, 4.4, 5.2, 5.0, 5.0, 5.0, 5.2, 5.3, 5.2, 5.45, 5.5, 5.65,
  7.7, 6.4, 6.55, 6.2, 6.05, 5.5, 4.8, 4.7, 4.7, 4.25, 4.1, 3.6, 2.95, 2.7, 2.7, 3.1, 2.95, 2.7, 2.6, 2.45, 2.3, 2.25, 2.05, 3.9, 0,
];
const PRED_TERESA_HIGH = [
  15.2, 11.8, 10.3, 8.75, 7.3, 7.0, 5.5, 5.15, 4.6, 4.2, 3.75, 4.6, 5.3, 4.05, 4.9, 5.4, 6.3, 5.65, 5.0, 7.2, 7.1, 7.1, 7.2, 7.1, 7.1,
  10.2, 4.25, 4.2, 3.75, 3.7, 4.1, 4.9, 6.95, 7.1, 7.0, 6.95, 7.7, 7.85, 6.6, 6.6, 8.0, 7.7, 7.7, 7.65, 7.8, 7.8, 7.85, 8.0, 8.1, 8.25,
  10.4, 8.75, 9.0, 8.8, 8.5, 7.7, 6.95, 6.7, 6.8, 5.9, 5.8, 5.15, 4.5, 4.1, 3.75, 3.6, 3.5, 3.4, 3.2, 2.95, 2.7, 2.45, 2.25, 4.0, 0,
];
const PRED_TERESA_LOW = [
  3.35, 2.45, 1.0, 0.4, 0.05, -0.13, -0.13, -0.2, -0.2, -0.3, -0.25, -0.13, -0.08, -0.13, -0.05, 0.13, 0.3, 0.3, 0.4, 0.77, 0.9, 0.9, 1.0, 0.77, 1.15,
  2.6, 0.45, 0.45, 0.4, 0.45, 0.65, 0.9, 1.7, 1.8, 1.75, 1.7, 1.85, 2.05, 2.05, 2.3, 2.05, 2.45, 2.5, 2.6, 2.7, 2.6, 2.75, 2.75, 2.9, 2.95,
  4.95, 3.85, 4.0, 3.6, 3.5, 2.75, 2.6, 2.45, 2.45, 2.2, 2.1, 1.8, 1.45, 1.15, 1.35, 1.7, 1.85, 1.85, 1.85, 1.85, 1.8, 1.8, 1.75, 3.8, 0,
];

const CHLOE_LINES = [
  [CHLOE_UNDER_4_5, CHLOE_UNDER_4_5_LOW],
  [CHLOE_UNDER_7_5, CHLOE_UNDER_7_5_LOW],
  [CHLOE_UNDER_10_5, CHLOE_UNDER_10_5_LOW],
  [CHLOE_UNDER_13_5, CHLOE_UNDER_13_5_LOW],
  [CHLOE_UNDER_16_5, CHLOE_UNDER_16_5_LOW],
  [CHLOE_UNDER_19_5, CHLOE_UNDER_19_5_LOW],
  [CHLOE_UNDER_22_5, CHLOE_UNDER_22_5_LOW],
  [CHLOE_UNDER_25_5, CHLOE_UNDER_25_5_LOW],
  [CHLOE_UNDER_28_5, CHLOE_UNDER_28_5_LOW],
];
const TERESA_LINES = [
  [TERESA_UNDER_4_5, TERESA_UNDER_4_5_LOW],
  [TERESA_UNDER_7_5, TERESA_UNDER_7_5_LOW],
  [TERESA_UNDER_10_5, TERESA_UNDER_10_5_LOW],
  [TERESA_UNDER_13_5, TERESA_UNDER_13_5_LOW],
  [TERESA_UNDER_16_5, TERESA_UNDER_16_5_LOW],
  [TERESA_UNDER_19_5, TERESA_UNDER_19_5_LOW],
  [TERESA_UNDER_22_5, TERESA_UNDER_22_5_LOW],
  [TERESA_UNDER_25_5, TERESA_UNDER_25_5_LOW],
  [TERESA_UNDER_28_5, TERESA_UNDER_28_5_LOW],
];

// ---------- helpers ----------
const rgba = (hex: string, a: number) => {
  const n = parseInt(hex.slice(1), 16);
  return `rgba(${(n >> 16) & 255},${(n >> 8) & 255},${n & 255},${a})`;
};
const points = (ys: number[]) => TIMES.map((t, i) => ({ x: t, y: ys[i] }));

function roundedBox(ctx: CanvasRenderingContext2D, x: number, y: number, w: number, h: number, r: number) {
  ctx.beginPath();
  ctx.moveTo(x + r, y);
  ctx.lineTo(x + w - r, y);
  ctx.arcTo(x + w, y, x + w, y + r, r);
  ctx.lineTo(x + w, y + h - r);
  ctx.arcTo(x + w, y + h, x + w - r, y + h, r);
  ctx.lineTo(x + r, y + h);
  ctx.arcTo(x, y + h, x, y + h - r, r);
  ctx.lineTo(x, y + r);
  ctx.arcTo(x, y, x + r, y, r);
  ctx.closePath();
}

function legendBox(ctx: CanvasRenderingContext2D, x: number, y: number, w: number, h: number) {
  roundedBox(ctx, x, y, w, h, 4);
  ctx.fillStyle = "rgba(255,255,255,0.8)";
  ctx.fill();
  ctx.strokeStyle = "#cccccc";
  ctx.lineWidth = 1;
  ctx.stroke();
}

function xAxis(height: number, showLabels: boolean) {
  return {
    type: "linear",
    min: X_MIN,
    max: X_MAX,
    afterBuildTicks: (s: any) => {
      s.ticks = X_TICKS.map((v) => ({ value: v }));
    },
    afterFit: (s: any) => {
      s.height = height;
    },
    ticks: {
      display: showLabels,
      autoSkip: false,
      maxRotation: 0,
      padding: 6,
      color: "#000",
      font: { family: FONT, size: 14 },
      callback: (v: any) => String(v),
    },
    grid: { drawOnChartArea: false, drawTicks: true, tickLength: 7, tickWidth: 1.2, tickColor: "#000" },
    border: { display: false },
  };
}

function yAxis(min: number, max: number, ticks: number[], fmt: (v: number) => string) {
  return {
    type: "linear",
    min,
    max,
    afterBuildTicks: (s: any) => {
      s.ticks = ticks.map((v) => ({ value: v }));
    },
    afterFit: (s: any) => {
      s.width = 91;
    },
    ticks: {
      autoSkip: false,
      padding: 6,
      color: "#000",
      font: { family: FONT, size: 14 },
      callback: (v: any) => fmt(Number(v)),
    },
    grid: { color: "#e3e3e3", lineWidth: 1, drawTicks: true, tickLength: 7, tickWidth: 1.2, tickColor: "#000" },
    border: { display: false },
  };
}

// round markers + frame, then titles, axis names and legend
function decorPlugin(o: {
  title?: string;
  titleY?: number;
  yLabel: string;
  yLabelX: number;
  yLabelSize: number;
  xLabel?: string;
  xLabelY?: number;
  roundDy: number;
  legend: (ctx: CanvasRenderingContext2D, a: any) => void;
}) {
  return {
    id: "decor",
    afterDatasetsDraw(chart: any) {
      const { ctx, chartArea: a, scales } = chart;
      ctx.save();
      ROUND_STARTS.forEach((t, i) => {
        const x = Math.round(scales.x.getPixelForValue(t)) + 0.5;
        ctx.strokeStyle = "rgba(70,70,70,0.8)";
        ctx.lineWidth = 1;
        ctx.setLineDash([2, 2.5]);
        ctx.beginPath();
        ctx.moveTo(x, a.top);
        ctx.lineTo(x, a.bottom);
        ctx.stroke();
        ctx.setLineDash([]);
        ctx.fillStyle = "rgba(85,85,85,0.85)";
        ctx.font = `15px ${FONT}`;
        ctx.textAlign = "left";
        ctx.textBaseline = "middle";
        ctx.fillText(ROUND_NAMES[i], x + 6, a.top + o.roundDy);
      });
      ctx.strokeStyle = "#1a1a1a";
      ctx.lineWidth = 1.6;
      ctx.strokeRect(a.left, a.top, a.right - a.left, a.bottom - a.top);
      ctx.restore();
    },
    afterDraw(chart: any) {
      const { ctx, chartArea: a } = chart;
      ctx.save();
      ctx.fillStyle = "#000";
      if (o.title) {
        ctx.font = `19px ${FONT}`;
        ctx.textAlign = "center";
        ctx.textBaseline = "middle";
        ctx.fillText(o.title, (a.left + a.right) / 2, o.titleY || 0);
      }
      if (o.xLabel) {
        ctx.font = `21px ${FONT}`;
        ctx.textAlign = "center";
        ctx.textBaseline = "middle";
        ctx.fillText(o.xLabel, (a.left + a.right) / 2, o.xLabelY || 0);
      }
      ctx.translate(o.yLabelX, (a.top + a.bottom) / 2);
      ctx.rotate(-Math.PI / 2);
      ctx.font = `${o.yLabelSize}px ${FONT}`;
      ctx.textAlign = "center";
      ctx.textBaseline = "middle";
      ctx.fillText(o.yLabel, 0, 0);
      ctx.restore();
      ctx.save();
      o.legend(ctx, a);
      ctx.restore();
    },
  };
}

function drawProbLegend(ctx: CanvasRenderingContext2D, a: any) {
  const w = 496;
  const h = 60;
  const x0 = a.right - 6 - w;
  const y0 = a.top + 6;
  legendBox(ctx, x0, y0, w, h);
  const colX = [4, 131, 260, 388];
  const rowY = [11, 30, 48];
  const perCol = [3, 2, 2, 2];
  let k = 0;
  ctx.font = `12.5px ${FONT}`;
  ctx.textAlign = "left";
  ctx.textBaseline = "middle";
  perCol.forEach((n, c) => {
    for (let r = 0; r < n; r++) {
      const hx = x0 + colX[c];
      const hy = y0 + rowY[r];
      ctx.strokeStyle = rgba(LINE_COLORS[k], 0.85);
      ctx.lineWidth = 2;
      ctx.beginPath();
      ctx.moveTo(hx, hy);
      ctx.lineTo(hx + 27, hy);
      ctx.stroke();
      ctx.fillStyle = "#000";
      ctx.fillText(LINE_NAMES[k], hx + 36, hy + 0.5);
      k++;
    }
  });
}

function probConfig(lines: number[][][], fighter: string, top: number, xh: number, titleY: number) {
  const datasets: any[] = [];
  lines.forEach(([main, low], k) => {
    const c = LINE_COLORS[k];
    datasets.push({
      label: `${LINE_NAMES[k]} alt`,
      data: points(low),
      borderColor: rgba(c, 0.6),
      borderWidth: 1.3,
      borderDash: [1.4, 2.2],
      pointRadius: 0,
      fill: false,
      tension: 0,
      order: 100 - 2 * k,
    });
    datasets.push({
      label: LINE_NAMES[k],
      data: points(main),
      borderColor: rgba(c, 0.8),
      borderWidth: 2.2,
      pointRadius: 0,
      fill: "-1",
      backgroundColor: rgba(c, 0.1),
      tension: 0,
      order: 99 - 2 * k,
    });
  });
  return {
    type: "line",
    data: { datasets },
    options: {
      responsive: false,
      animation: false,
      devicePixelRatio: 1,
      events: [],
      layout: { padding: { left: 0, right: 29, top, bottom: 0 } },
      plugins: { legend: { display: false }, tooltip: { enabled: false }, title: { display: false } },
      scales: {
        x: xAxis(xh, false),
        y: yAxis(0, 1.15, PROB_TICKS, (v) => v.toFixed(2)),
      },
    },
    plugins: [
      decorPlugin({
        title: `${fighter} — Total Strikes Landed R3 Under Leadup (R1-R3) (Event ${EVENT_ID})`,
        titleY,
        yLabel: "Prob",
        yLabelX: 28,
        yLabelSize: 13,
        roundDy: 22,
        legend: drawProbLegend,
      }),
    ],
  };
}

function countConfig() {
  const r3 = TIMES.indexOf(ROUND_STARTS[2]);
  const last = TIMES.length - 1;
  const legendItems = [
    { text: `Truth ${FIGHTERS[0]}: ${TRUTH_CHLOE[last]}`, color: "rgba(255,0,0,0.75)", dash: [] as number[], w: 2.5 },
    { text: `Truth ${FIGHTERS[1]}: ${TRUTH_TERESA[last]}`, color: "rgba(0,0,255,0.75)", dash: [] as number[], w: 2.5 },
    { text: `Predicted ${FIGHTERS[0]}: ${PRED_CHLOE[r3].toFixed(1)}`, color: "rgba(255,0,0,0.6)", dash: [2.2, 3.6], w: 2.2 },
    { text: `Predicted ${FIGHTERS[1]}: ${PRED_TERESA[r3].toFixed(1)}`, color: "rgba(0,0,255,0.6)", dash: [2.2, 3.6], w: 2.2 },
  ];
  const band = (data: number[], color: string, fill: any, order: number) => ({
    data: points(data),
    borderColor: color,
    borderWidth: 1,
    backgroundColor: color,
    pointRadius: 0,
    fill,
    tension: 0,
    order,
  });
  const datasets: any[] = [
    band(PRED_CHLOE_HIGH, "rgba(255,0,0,0.15)", false, 20),
    band(PRED_CHLOE_LOW, "rgba(255,0,0,0.15)", "-1", 19),
    band(PRED_TERESA_HIGH, "rgba(0,0,255,0.15)", false, 18),
    band(PRED_TERESA_LOW, "rgba(0,0,255,0.15)", "-1", 17),
    { data: points(TRUTH_CHLOE), borderColor: "rgba(255,0,0,0.75)", borderWidth: 2.5, pointRadius: 0, fill: false, tension: 0, order: 6 },
    { data: points(TRUTH_TERESA), borderColor: "rgba(0,0,255,0.75)", borderWidth: 2.5, pointRadius: 0, fill: false, tension: 0, order: 5 },
    { data: points(PRED_CHLOE), borderColor: "rgba(255,0,0,0.6)", borderWidth: 2.2, borderDash: [2.2, 3.6], pointRadius: 0, fill: false, tension: 0, order: 4 },
    { data: points(PRED_TERESA), borderColor: "rgba(0,0,255,0.6)", borderWidth: 2.2, borderDash: [2.2, 3.6], pointRadius: 0, fill: false, tension: 0, order: 3 },
  ];
  const drawLegend = (ctx: CanvasRenderingContext2D, a: any) => {
    const x0 = a.left + 9;
    const y0 = a.top + 6;
    legendBox(ctx, x0, y0, 285, 95);
    const rows = [14, 36, 59, 81];
    ctx.font = `14px ${FONT}`;
    ctx.textAlign = "left";
    ctx.textBaseline = "middle";
    legendItems.forEach((it, i) => {
      const y = y0 + rows[i];
      ctx.strokeStyle = it.color;
      ctx.lineWidth = it.w;
      ctx.setLineDash(it.dash);
      ctx.beginPath();
      ctx.moveTo(x0 + 5, y);
      ctx.lineTo(x0 + 37, y);
      ctx.stroke();
      ctx.setLineDash([]);
      ctx.fillStyle = "#000";
      ctx.fillText(it.text, x0 + 47, y + 0.5);
    });
  };
  return {
    type: "line",
    data: { datasets },
    options: {
      responsive: false,
      animation: false,
      devicePixelRatio: 1,
      events: [],
      layout: { padding: { left: 0, right: 29, top: 47, bottom: 0 } },
      plugins: { legend: { display: false }, tooltip: { enabled: false }, title: { display: false } },
      scales: {
        x: xAxis(81, true),
        y: yAxis(-1.45, 22.6, COUNT_TICKS, (v) => String(v)),
      },
    },
    plugins: [
      decorPlugin({
        yLabel: "Count",
        yLabelX: 40,
        yLabelSize: 16,
        xLabel: "Fight time (seconds)",
        xLabelY: 405,
        roundDy: 16,
        legend: drawLegend,
      }),
    ],
  };
}

function Panel({ top, height, build }: { top: number; height: number; build: () => any }) {
  const ref = useRef<HTMLCanvasElement>(null);
  useEffect(() => {
    const chart = new Chart(ref.current as HTMLCanvasElement, build());
    return () => chart.destroy();
  }, []);
  return (
    <canvas
      ref={ref}
      width={2100}
      height={height}
      style={{ position: "absolute", left: 0, top, width: 2100, height, display: "block" }}
    />
  );
}

export default function App() {
  return (
    <div style={{ position: "fixed", left: 0, top: 0, width: 2100, height: 1500, background: "#ffffff", overflow: "hidden" }}>
      <Panel top={0} height={530} build={() => probConfig(CHLOE_LINES, FIGHTERS[0], 51, 19, 32)} />
      <Panel top={530} height={530} build={() => probConfig(TERESA_LINES, FIGHTERS[1], 48, 21, 29)} />
      <Panel top={1060} height={440} build={countConfig} />
    </div>
  );
}
